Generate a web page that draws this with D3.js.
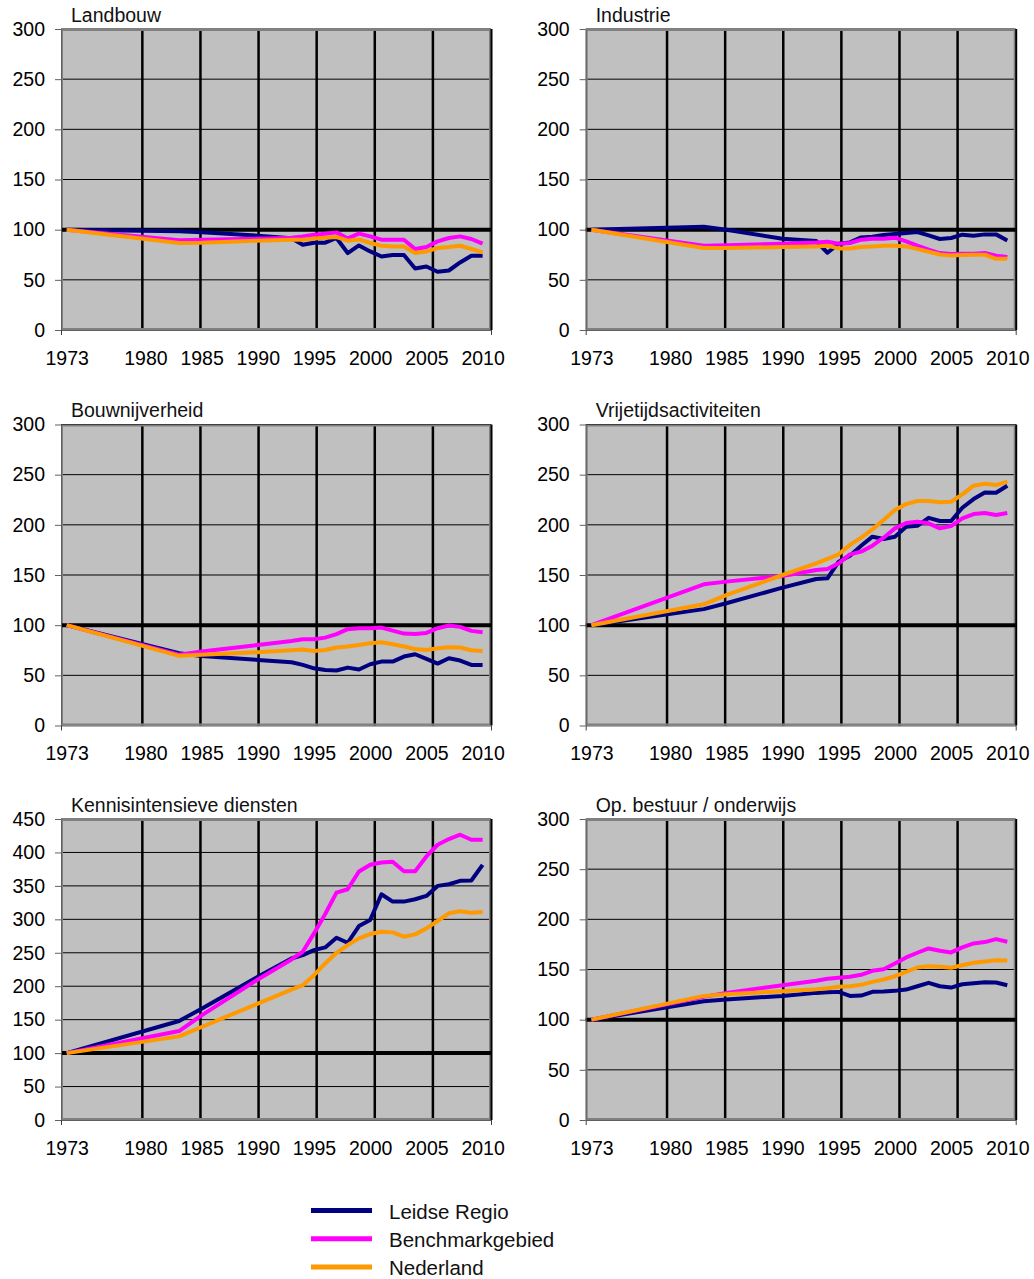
<!DOCTYPE html>
<html>
<head>
<meta charset="utf-8">
<script src="https://cdn.jsdelivr.net/npm/d3@7"></script>
<style>
  body { margin: 0; background: #fff; }
  text { font-family: Arial, "Liberation Sans", sans-serif; }
</style>
</head>
<body>
<div id="chart"></div>
<script>
// jaren (eerste punt 1973, daarna 1983 ... 2010)
const years = [1973, 1983, 1985, 1990, 1993, 1994, 1995, 1996, 1997, 1998, 1999, 2000, 2001, 2002, 2003, 2004, 2005, 2006, 2007, 2008, 2009, 2010];
const xTickYears = [1973, 1980, 1985, 1990, 1995, 2000, 2005, 2010];
const gridYears = [1980, 1985, 1990, 1995, 2000, 2005];
const yTicks300 = [0, 50, 100, 150, 200, 250, 300];
const yTicks450 = [0, 50, 100, 150, 200, 250, 300, 350, 400, 450];

const seriesNames = ["Leidse Regio", "Benchmarkgebied", "Nederland"];
const seriesColors = ["#000080", "#FF00FF", "#FF9900"];
const panelTitles = ["Landbouw", "Industrie", "Bouwnijverheid", "Vrijetijdsactiviteiten", "Kennisintensieve diensten", "Op. bestuur / onderwijs"];

const landbouwLeiden = [100, 98.5, 97.5, 94, 91.5, 85, 87, 87, 91.7, 76.7, 84.3, 78.3, 73.3, 74.7, 74.7, 61.3, 63.3, 58, 59.3, 67.3, 74, 74];
const landbouwBench  = [100, 89.5, 90, 91, 92, 93.3, 95, 96, 97.3, 91.3, 96, 93.3, 90, 90, 90, 80.7, 82.7, 88.3, 91.7, 93.3, 90.7, 86];
const landbouwNL     = [100, 86.7, 87, 89, 90, 90, 91.3, 92, 92.7, 89, 90.3, 86.7, 84, 83.3, 83.3, 76.7, 78.3, 81.7, 82.7, 84, 80.7, 77.3];

const industrieLeiden = [100, 103, 100, 91, 88.7, 77, 86, 87.3, 92.3, 93, 94.7, 95.7, 96.7, 97.7, 94.3, 90.7, 91.7, 95, 94, 95.3, 95.3, 89.3];
const industrieBench  = [100, 84, 84.5, 86, 87.3, 88, 86, 86.7, 90, 91, 91, 92, 88.3, 84, 80, 76.7, 75.7, 76, 76, 76.7, 74, 72.7];
const industrieNL     = [100, 81.7, 81.7, 82.7, 83.3, 84, 81.3, 81.3, 82.7, 83.3, 84, 84, 83.3, 80.7, 78, 75.3, 74.3, 74.7, 75, 75, 71, 71];

const bouwLeiden = [100, 72, 69.3, 65.4, 63, 60.4, 57, 55.4, 54.8, 57.7, 55.8, 61, 63.7, 63.7, 68.7, 71, 66.4, 61.7, 67, 64.7, 60.4, 60.4];
const bouwBench  = [100, 70.5, 73.7, 80.3, 84.3, 86, 86, 87.6, 91, 96, 97, 97, 97.6, 94.6, 91.6, 91.3, 92.3, 97, 99.6, 98.3, 94.3, 93];
const bouwNL     = [100, 69.4, 70.4, 73, 75, 75.7, 74.3, 75.3, 77.7, 78.7, 80.3, 82, 83, 81, 78.7, 76.3, 75.3, 77, 78, 77.7, 75, 74.3];

const vrijetijdLeiden = [100, 116, 121.8, 137.4, 146, 146.7, 163.3, 169.3, 179.2, 188.2, 185.9, 188.2, 198, 199, 207, 203.8, 203.8, 217, 225.7, 232.3, 232, 239];
const vrijetijdBench  = [100, 140.7, 143.4, 149, 155, 156, 161.6, 170.6, 173.3, 179.2, 187.2, 196.5, 201.8, 203, 201.5, 196.5, 198.8, 206.4, 210.7, 211.7, 209.8, 211.7];
const vrijetijdNL     = [100, 120.8, 130, 150, 161.6, 166, 170.6, 180, 187.2, 195.5, 204.8, 214.7, 220.7, 223.7, 223.7, 222.4, 223, 230.3, 239, 241, 239.6, 243];

const kennisLeiden = [100, 148, 166.5, 214, 241.5, 246.5, 254, 258, 272.5, 265, 290, 299, 337.5, 326.5, 326.5, 330, 335, 350, 352.5, 357.5, 358, 381.5];
const kennisBench  = [100, 133, 156.5, 210, 240, 251.5, 279, 308, 340, 345, 371.5, 381.5, 385, 386, 372, 372, 394, 411.5, 420, 426.5, 419, 419];
const kennisNL     = [100, 125, 139, 174, 195, 201.5, 216.5, 234, 250, 261.5, 271.5, 278, 281.5, 280.5, 274, 277.5, 286.5, 297.5, 309, 312, 310, 311];

const bestuurLeiden = [100, 118.3, 120, 123.7, 126.7, 127.3, 127.7, 123.7, 124, 127.7, 128, 128.7, 130, 133.3, 136.7, 133.3, 132, 135.3, 136.3, 137.3, 137, 134.3];
const bestuurBench  = [100, 122.7, 126.7, 134.3, 138.7, 140.7, 141.7, 142.7, 144.7, 148.7, 150.3, 156, 162, 166.7, 171, 168.7, 167, 172, 176, 177.3, 180.3, 177.7];
const bestuurNL     = [100, 123.7, 125.3, 128.3, 130.3, 131.3, 132.7, 133.3, 134.7, 137.7, 140, 143.3, 147.7, 152, 153.3, 152.7, 151.7, 154.3, 156.7, 158, 159.3, 159];

const panels = [
  { title: panelTitles[0], ticks: yTicks300, series: [landbouwLeiden, landbouwBench, landbouwNL] },
  { title: panelTitles[1], ticks: yTicks300, series: [industrieLeiden, industrieBench, industrieNL] },
  { title: panelTitles[2], ticks: yTicks300, series: [bouwLeiden, bouwBench, bouwNL] },
  { title: panelTitles[3], ticks: yTicks300, series: [vrijetijdLeiden, vrijetijdBench, vrijetijdNL] },
  { title: panelTitles[4], ticks: yTicks450, series: [kennisLeiden, kennisBench, kennisNL] },
  { title: panelTitles[5], ticks: yTicks300, series: [bestuurLeiden, bestuurBench, bestuurNL] }
];

// Afmetingen
const W = 1034, H = 1279;
const colLeft = [61, 585.7];
const rowTop = [29, 424.5, 819];
const plotW = 430, plotH = 301;

const svg = d3.select("#chart").append("svg")
  .attr("width", W)
  .attr("height", H);

panels.forEach((p, i) => {
  const left = colLeft[i % 2];
  const top = rowTop[Math.floor(i / 2)];
  const right = left + plotW, bottom = top + plotH;

  const xGrid = d3.scaleLinear().domain([1973, 2010]).range([left, right]);
  const xData = d3.scaleLinear().domain([1973, 2010]).range([left + 5.7, right - 8.4]);
  const y = d3.scaleLinear().domain([0, d3.max(p.ticks)]).range([bottom, top]);

  const g = svg.append("g");

  // plotvlak
  g.append("rect")
    .attr("x", left).attr("y", top)
    .attr("width", plotW).attr("height", plotH)
    .attr("fill", "#C0C0C0");

  // horizontale rasterlijnen
  g.selectAll(".hgrid")
    .data(p.ticks.filter(t => t > 0))
    .enter().append("line")
    .attr("x1", left).attr("x2", right)
    .attr("y1", d => y(d)).attr("y2", d => y(d))
    .attr("stroke", "#000").attr("stroke-width", 1);

  // verticale rasterlijnen
  g.selectAll(".vgrid")
    .data(gridYears)
    .enter().append("line")
    .attr("x1", d => xGrid(d)).attr("x2", d => xGrid(d))
    .attr("y1", top).attr("y2", bottom)
    .attr("stroke", "#000").attr("stroke-width", 2.5);

  // rand
  g.append("rect")
    .attr("x", left + 1).attr("y", top + 1)
    .attr("width", plotW - 2).attr("height", plotH - 2)
    .attr("fill", "none")
    .attr("stroke", "#808080").attr("stroke-width", 2);
  g.append("line")
    .attr("x1", xGrid(2010) + 0.5).attr("x2", xGrid(2010) + 0.5)
    .attr("y1", top).attr("y2", bottom)
    .attr("stroke", "#000").attr("stroke-width", 2);

  // indexlijn 100
  g.append("line")
    .attr("x1", left).attr("x2", right)
    .attr("y1", y(100)).attr("y2", y(100))
    .attr("stroke", "#000").attr("stroke-width", 4);

  // lijnen
  const line = d3.line()
    .x((d, k) => xData(years[k]))
    .y(d => y(d));

  p.series.forEach((s, k) => {
    g.append("path")
      .datum(s)
      .attr("d", line)
      .attr("fill", "none")
      .attr("stroke", seriesColors[k])
      .attr("stroke-width", 4)
      .attr("stroke-linejoin", "round");
  });

  // y-as
  const yAxis = g.append("g")
    .attr("transform", `translate(${left}, 0)`)
    .call(d3.axisLeft(y).tickValues(p.ticks).tickSize(6).tickSizeOuter(0).tickPadding(10));
  yAxis.select(".domain").attr("stroke", "#606060");
  yAxis.selectAll(".tick line").attr("stroke", "#606060");
  yAxis.selectAll("text")
    .attr("font-size", "19.5px")
    .attr("font-family", "Arial, 'Liberation Sans', sans-serif")
    .attr("fill", "#000");

  // x-as lijn + eindstreepjes
  const xAxis = g.append("g")
    .attr("transform", `translate(0, ${bottom})`)
    .call(d3.axisBottom(xGrid).tickValues([1973, 2010]).tickSize(5).tickSizeOuter(0).tickFormat(""));
  xAxis.select(".domain").attr("stroke", "#606060");
  xAxis.selectAll(".tick line").attr("stroke", "#404040");

  // x-labels
  const xLabels = g.append("g")
    .attr("transform", `translate(0, ${bottom})`)
    .call(d3.axisBottom(xData).tickValues(xTickYears).tickSize(0).tickPadding(21).tickFormat(d3.format("d")));
  xLabels.select(".domain").remove();
  xLabels.selectAll("text")
    .attr("font-size", "19.5px")
    .attr("font-family", "Arial, 'Liberation Sans', sans-serif")
    .attr("fill", "#000");

  // titel
  g.append("text")
    .attr("x", left + 10)
    .attr("y", top - 7.5)
    .style("font-size", "19.5px")
    .style("fill", "#111")
    .text(p.title);
});

// legenda
const legend = svg.append("g");
const legendItems = legend.selectAll(".legend-item")
  .data(seriesNames)
  .enter().append("g")
  .attr("class", "legend-item")
  .attr("transform", (d, i) => `translate(311, ${1210.5 + i * 28.2})`);

legendItems.append("line")
  .attr("x1", 0).attr("x2", 61)
  .attr("y1", 0).attr("y2", 0)
  .attr("stroke", (d, i) => seriesColors[i])
  .attr("stroke-width", 5);

legendItems.append("text")
  .attr("x", 78)
  .attr("y", 8.5)
  .style("font-size", "20.5px")
  .style("fill", "#111")
  .text(d => d);
</script>
</body>
</html>
